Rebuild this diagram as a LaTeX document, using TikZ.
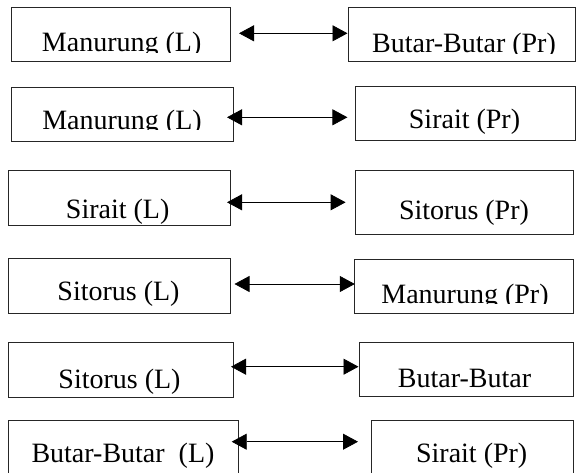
\documentclass[tikz,border=0pt]{standalone}
\usepackage{fontspec}
\setmainfont{Liberation Serif}
\usetikzlibrary{arrows.meta,calc}
\begin{document}
\begin{tikzpicture}[x=1pt,y=-1pt,
  box/.style={draw=black!85, line width=0.9pt, inner sep=0pt, outer sep=0pt},
  lbl/.style={anchor=base, inner sep=0pt, outer sep=0pt, font=\fontsize{28}{30}\selectfont, text=black},
  dar/.style={{Triangle[length=15pt,width=16pt]}-{Triangle[length=15pt,width=16pt]}, line width=0.8pt, draw=black}]
\useasboundingbox (0,0) rectangle (576,472);
\clip (0,0) rectangle (576,472);
% boxes
\node[box, minimum width=219pt,   minimum height=54.5pt] (L1) at (120.5,34.25) {};
\node[box, minimum width=227pt,   minimum height=53.5pt] (R1) at (462,34.25) {};
\node[box, minimum width=222.8pt, minimum height=54.4pt] (L2) at (122.4,114.5) {};
\node[box, minimum width=220pt,   minimum height=54pt]   (R2) at (465,113.7) {};
\node[box, minimum width=222.5pt, minimum height=55pt]   (L3) at (119.25,198.2) {};
\node[box, minimum width=218.5pt, minimum height=63.3pt] (R3) at (464.25,202.35) {};
\node[box, minimum width=222.5pt, minimum height=55pt]   (L4) at (119.25,285.8) {};
\node[box, minimum width=218.7pt, minimum height=54pt]   (R4) at (463.65,286.3) {};
\node[box, minimum width=225.5pt, minimum height=55pt]   (L5) at (120.75,369.8) {};
\node[box, minimum width=214.3pt, minimum height=54.4pt] (R5) at (466.15,369.5) {};
\node[box, minimum width=230pt,   minimum height=79.3pt] (L6) at (123.3,460.35) {};
\node[box, minimum width=201.3pt, minimum height=79.3pt] (R6) at (472.35,460.35) {};
% labels
\begin{scope}\clip (L1.north west) rectangle (L1.east |- 0,52);
\node[lbl] (L1t) at (121.7,51.5) {Manurung (L)};\end{scope}
\begin{scope}\clip (R1.north west) rectangle (R1.east |- 0,53);
\node[lbl] (R1t) at (464,52.5) {Butar-Butar (Pr)};\end{scope}
\begin{scope}\clip (L2.north west) rectangle (L2.east |- 0,129.8);
\node[lbl] (L2t) at (122,129) {Manurung (L)};\end{scope}
\node[lbl] (R2t) at (464.5,128.5) {Sirait (Pr)};
\node[lbl] (L3t) at (117.7,218.5) {Sirait (L)};
\node[lbl] (R3t) at (464,219) {Sitorus (Pr)};
\node[lbl] (L4t) at (118.5,300.7) {Sitorus (L)};
\begin{scope}\clip (R4.north west) rectangle (R4.east |- 0,303.5);
\node[lbl] (R4t) at (465,303) {Manurung (Pr)};\end{scope}
\node[lbl] (L5t) at (119.5,388.5) {Sitorus (L)};
\node[lbl] (R5t) at (464.5,387.5) {Butar-Butar};
\node[lbl] (L6t) at (123,462.7) {Butar-Butar~~(L)};
\node[lbl] (R6t) at (471.7,462.7) {Sirait (Pr)};
% arrows
\draw[dar] ($(L1.east|-0,33.3)+(9,0)$) -- ($(R1.west|-0,33.3)+(-1,0)$);
\draw[dar] ($(L2.east|-0,117.3)+(-6.8,0)$) -- ($(R2.west|-0,117.3)+(-7.6,0)$);
\draw[dar] ($(L3.east|-0,202.3)+(-3.5,0)$) -- ($(R3.west|-0,202.3)+(-9.4,0)$);
\draw[dar] ($(L4.east|-0,284)+(4,0)$) -- ($(R4.west|-0,284)+(0.5,0)$);
\draw[dar] ($(L5.east|-0,366.7)+(-2.5,0)$) -- ($(R5.west|-0,366.7)+(-0.5,0)$);
\draw[dar] ($(L6.east|-0,441.7)+(-6.6,0)$) -- ($(R6.west|-0,441.7)+(-13.7,0)$);
\end{tikzpicture}
\end{document}
